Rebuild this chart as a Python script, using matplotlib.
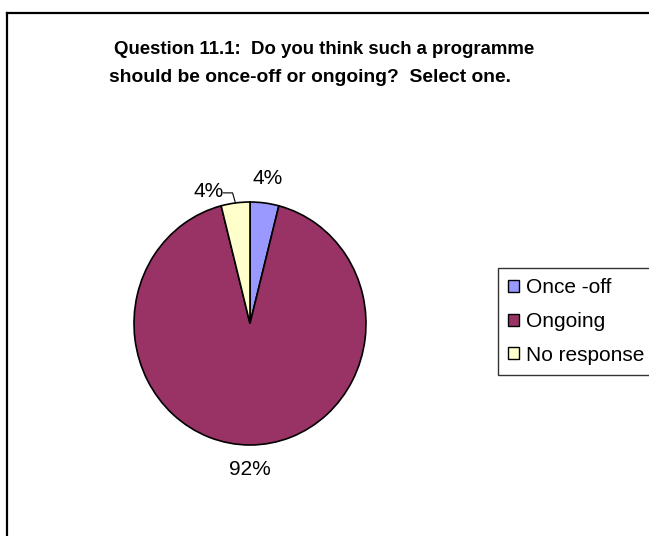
import matplotlib
matplotlib.use('Agg')
import matplotlib.pyplot as plt
from matplotlib.lines import Line2D
import numpy as np

plt.rcParams['font.family'] = ['Liberation Sans', 'DejaVu Sans']

title_lines = ['Question 11.1:  Do you think such a programme',
               'should be once-off or ongoing?  Select one.']
categories = ['Once -off', 'Ongoing', 'No response']
counts = [1, 23, 1]
colors = ['#9999FF', '#993366', '#FFFFCC']

W, H = 649, 536
fig = plt.figure(figsize=(W / 100, H / 100), dpi=100)

# chart frame (only top and left edges fall inside the image)
fig.add_artist(Line2D([7 / W, 1], [1 - 12.5 / H, 1 - 12.5 / H], color='black', lw=1.6))
fig.add_artist(Line2D([7 / W, 7 / W], [0, 1 - 12.5 / H], color='black', lw=1.6))

# title, one line at a time
fig.text(324.5 / W, 1 - 50 / H, title_lines[0], ha='center', va='center',
         fontsize=13.4, fontweight='bold')
fig.text(310 / W, 1 - 77 / H, title_lines[1], ha='center', va='center',
         fontsize=13.9, fontweight='bold')

# pie axes, slightly taller than wide
cx, cy, rx, ry = 250, 323.5, 116, 121.5
ax = fig.add_axes([(cx - rx) / W, 1 - (cy + ry) / H, 2 * rx / W, 2 * ry / H])
wedges, texts, autotexts = ax.pie(
    counts, colors=colors, startangle=90, counterclock=False,
    autopct='%1.0f%%', pctdistance=1.2,
    wedgeprops=dict(edgecolor='black', linewidth=1.2),
    textprops=dict(fontsize=15))
ax.set_aspect('auto')
ax.set_xlim(-1, 1)
ax.set_ylim(-1, 1)
for t in autotexts:
    t.set_clip_on(False)

# last label sits off to the left with a leader line
total = sum(counts)
mid = np.deg2rad(90 + 360 * counts[-1] / total / 2)
edge = (np.cos(mid), np.sin(mid))
lab = (-0.36, 1.09)
autotexts[-1].set_position(lab)
ax.plot([lab[0] + 0.13, edge[0] - 0.025, edge[0]],
        [lab[1] - 0.015, lab[1] - 0.015, edge[1]],
        color='black', lw=0.8, clip_on=False)

leg = fig.legend(wedges, categories, loc='upper left',
                 bbox_to_anchor=(498 / W, 1 - 268 / H), borderaxespad=0,
                 fontsize=15, frameon=True, fancybox=False,
                 handlelength=0.5, handleheight=0.5, handletextpad=0.35,
                 labelspacing=0.7, borderpad=0.5)
leg.get_frame().set_edgecolor('black')
leg.get_frame().set_linewidth(1.0)
for h in leg.legend_handles:
    h.set_linewidth(1.0)

fig.savefig('out.png', dpi=100)
